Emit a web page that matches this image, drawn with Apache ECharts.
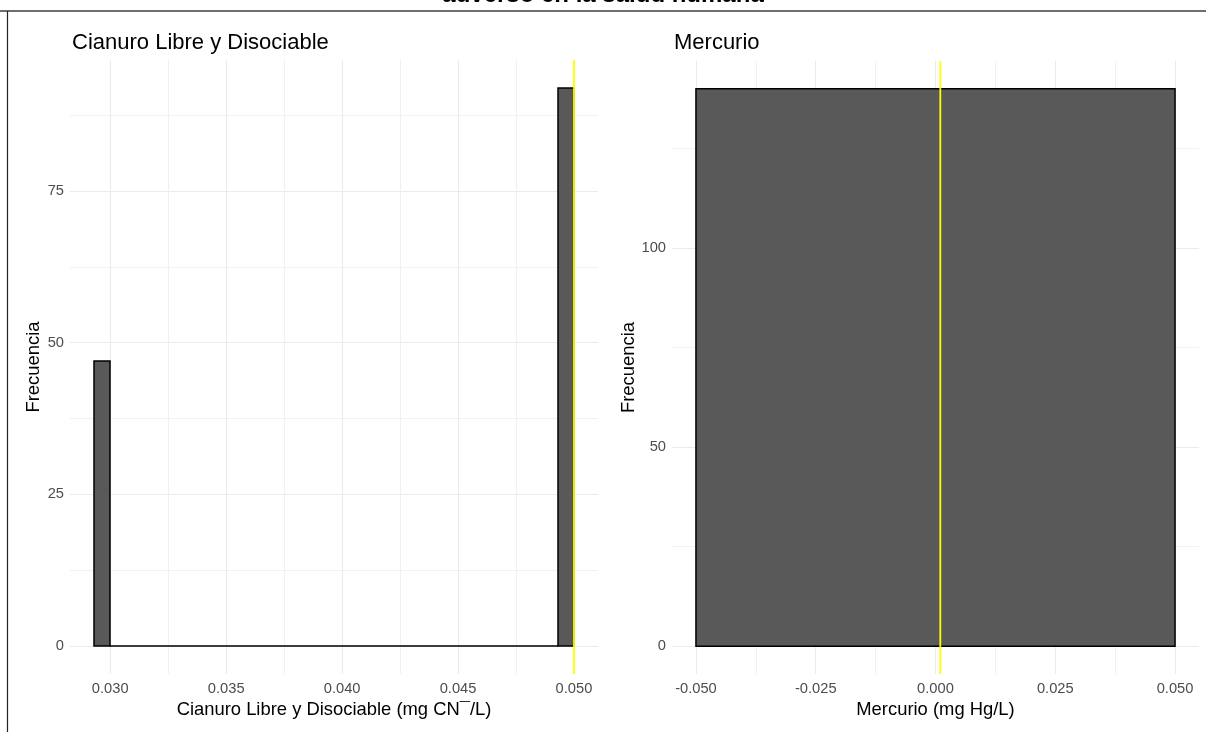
<!DOCTYPE html>
<html>
<head>
<meta charset="utf-8">
<script src="https://cdn.jsdelivr.net/npm/echarts@6/dist/echarts.min.js"></script>
<style>
html,body{margin:0;padding:0;background:#fff;}
#chart{width:1206px;height:732px;}
</style>
</head>
<body>
<div id="chart"></div>
<script>
// ---- Data ----
const suptitle = 'adverso en la salud humana';
const panelTitles = ['Cianuro Libre y Disociable', 'Mercurio'];
const xNames = ['Cianuro Libre y Disociable (mg CN\u00AF/L)', 'Mercurio (mg Hg/L)'];
const yName = 'Frecuencia';

// Cyanide histogram: 30 bins from 0.0293 to 0.0500
const cnBinStart = 0.0293;
const cnBinWidth = 0.00069;
const cnCounts = [47, 0, 0, 0, 0, 0, 0, 0, 0, 0, 0, 0, 0, 0, 0, 0, 0, 0, 0, 0, 0, 0, 0, 0, 0, 0, 0, 0, 0, 92];
const cnLimit = 0.05;
const cnXTicks = [0.030, 0.035, 0.040, 0.045, 0.050];
const cnXMinor = [0.0325, 0.0375, 0.0425, 0.0475];
const cnYTicks = [0, 25, 50, 75];
const cnYMinor = [12.5, 37.5, 62.5, 87.5];

// Mercury histogram: one bin
const hgBins = [[-0.05, 0.05, 140]];
const hgLimit = 0.001;
const hgXTicks = [-0.050, -0.025, 0.000, 0.025, 0.050];
const hgXMinor = [-0.0375, -0.0125, 0.0125, 0.0375];
const hgYTicks = [0, 50, 100];
const hgYMinor = [25, 75, 125];

// ---- Build ----
const cnBins = cnCounts.map((c, i) => [cnBinStart + i * cnBinWidth, cnBinStart + (i + 1) * cnBinWidth, c]);

function expand(lo, hi) { const d = (hi - lo) * 0.05; return [lo - d, hi + d]; }
const cnX = expand(cnBins[0][0], cnBins[cnBins.length - 1][1]);
const cnY = expand(0, Math.max(...cnCounts));
const hgX = expand(hgBins[0][0], hgBins[hgBins.length - 1][1]);
const hgY = expand(0, Math.max(...hgBins.map(b => b[2])));

const FONT = '"Liberation Sans", Arial, sans-serif';
const gridColor = '#ebebeb';
const TICK_FS = 14.7;
const NAME_FS = 18.4;

function xAxisMajor(gi, ext, ticks, name, dec) {
  return {
    type: 'value', gridIndex: gi, position: 'bottom', min: ext[0], max: ext[1],
    axisLine: { show: false }, axisTick: { show: false, customValues: ticks },
    axisLabel: { customValues: ticks, color: '#4d4d4d', fontSize: TICK_FS, fontFamily: FONT, margin: 7,
      formatter: v => v.toFixed(dec) },
    splitLine: { show: true, lineStyle: { color: gridColor, width: 1.1 } },
    name: name, nameLocation: 'middle', nameGap: 25,
    nameTextStyle: { color: '#000', fontSize: NAME_FS, fontFamily: FONT }
  };
}
function xAxisMinor(gi, ext, ticks) {
  return {
    type: 'value', gridIndex: gi, position: 'bottom', min: ext[0], max: ext[1],
    axisLine: { show: false }, axisTick: { show: false, customValues: ticks },
    axisLabel: { show: false, customValues: ticks },
    splitLine: { show: true, lineStyle: { color: '#f1f1f1', width: 1 } }
  };
}
function yAxisMajor(gi, ext, ticks, name) {
  return {
    type: 'value', gridIndex: gi, position: 'left', min: ext[0], max: ext[1],
    axisLine: { show: false }, axisTick: { show: false, customValues: ticks },
    axisLabel: { customValues: ticks, color: '#4d4d4d', fontSize: TICK_FS, fontFamily: FONT, margin: 6 },
    splitLine: { show: true, lineStyle: { color: gridColor, width: 1.1 } },
    name: name, nameLocation: 'middle', nameGap: 27, nameRotate: 90,
    nameTextStyle: { color: '#000', fontSize: NAME_FS, fontFamily: FONT }
  };
}
function yAxisMinor(gi, ext, ticks) {
  return {
    type: 'value', gridIndex: gi, position: 'left', min: ext[0], max: ext[1],
    axisLine: { show: false }, axisTick: { show: false, customValues: ticks },
    axisLabel: { show: false, customValues: ticks },
    splitLine: { show: true, lineStyle: { color: '#f1f1f1', width: 1 } }
  };
}

function histSeries(xi, yi, bins, limit) {
  return [{
    type: 'custom', xAxisIndex: xi, yAxisIndex: yi, data: bins, silent: true,
    encode: { x: [0, 1], y: 2 },
    renderItem: function (params, api) {
      const p0 = api.coord([api.value(0), api.value(2)]);
      const p1 = api.coord([api.value(1), 0]);
      return {
        type: 'rect',
        shape: { x: p0[0], y: p0[1], width: p1[0] - p0[0], height: p1[1] - p0[1] },
        style: { fill: '#595959', stroke: '#000', lineWidth: 1.5 }
      };
    },
    z: 3
  }, {
    type: 'custom', xAxisIndex: xi, yAxisIndex: yi, data: [[limit]], silent: true, z: 5,
    encode: { x: 0 },
    renderItem: function (params, api) {
      const cs = params.coordSys;
      const x = api.coord([api.value(0), 0])[0];
      return {
        type: 'line',
        shape: { x1: x, y1: cs.y, x2: x, y2: cs.y + cs.height },
        style: { stroke: '#ffff00', lineWidth: 1.8 }
      };
    }
  }];
}

const option = {
  animation: false,
  backgroundColor: '#fff',
  textStyle: { fontFamily: FONT },
  title: [
    { text: panelTitles[0], left: 67, top: 27, textStyle: { color: '#000', fontSize: 22, fontWeight: 'normal', fontFamily: FONT } },
    { text: panelTitles[1], left: 669, top: 27, textStyle: { color: '#000', fontSize: 22, fontWeight: 'normal', fontFamily: FONT } }
  ],
  grid: [
    { left: 70, top: 60, width: 528, height: 614, outerBoundsMode: 'none' },
    { left: 672, top: 61, width: 527, height: 613, outerBoundsMode: 'none' }
  ],
  xAxis: [
    xAxisMinor(0, cnX, cnXMinor),
    xAxisMajor(0, cnX, cnXTicks, xNames[0], 3),
    xAxisMinor(1, hgX, hgXMinor),
    xAxisMajor(1, hgX, hgXTicks, xNames[1], 3)
  ],
  yAxis: [
    yAxisMinor(0, cnY, cnYMinor),
    yAxisMajor(0, cnY, cnYTicks, yName),
    yAxisMinor(1, hgY, hgYMinor),
    yAxisMajor(1, hgY, hgYTicks, yName)
  ],
  series: [
    ...histSeries(1, 1, cnBins, cnLimit),
    ...histSeries(3, 3, hgBins, hgLimit)
  ],
  graphic: [
    { type: 'text', left: 'center', top: -17, silent: true,
      style: { text: suptitle, fill: '#000', fontSize: 24, fontWeight: 'bold', fontFamily: FONT } },
    { type: 'line', silent: true, shape: { x1: 0, y1: 11, x2: 1206, y2: 11 },
      style: { stroke: '#6e6e6e', lineWidth: 2 } },
    { type: 'line', silent: true, shape: { x1: 7.5, y1: 11, x2: 7.5, y2: 732 },
      style: { stroke: '#222', lineWidth: 1.2 } }
  ]
};

const chart = echarts.init(document.getElementById('chart'), null, { renderer: 'canvas' });
chart.setOption(option);
</script>
</body>
</html>
